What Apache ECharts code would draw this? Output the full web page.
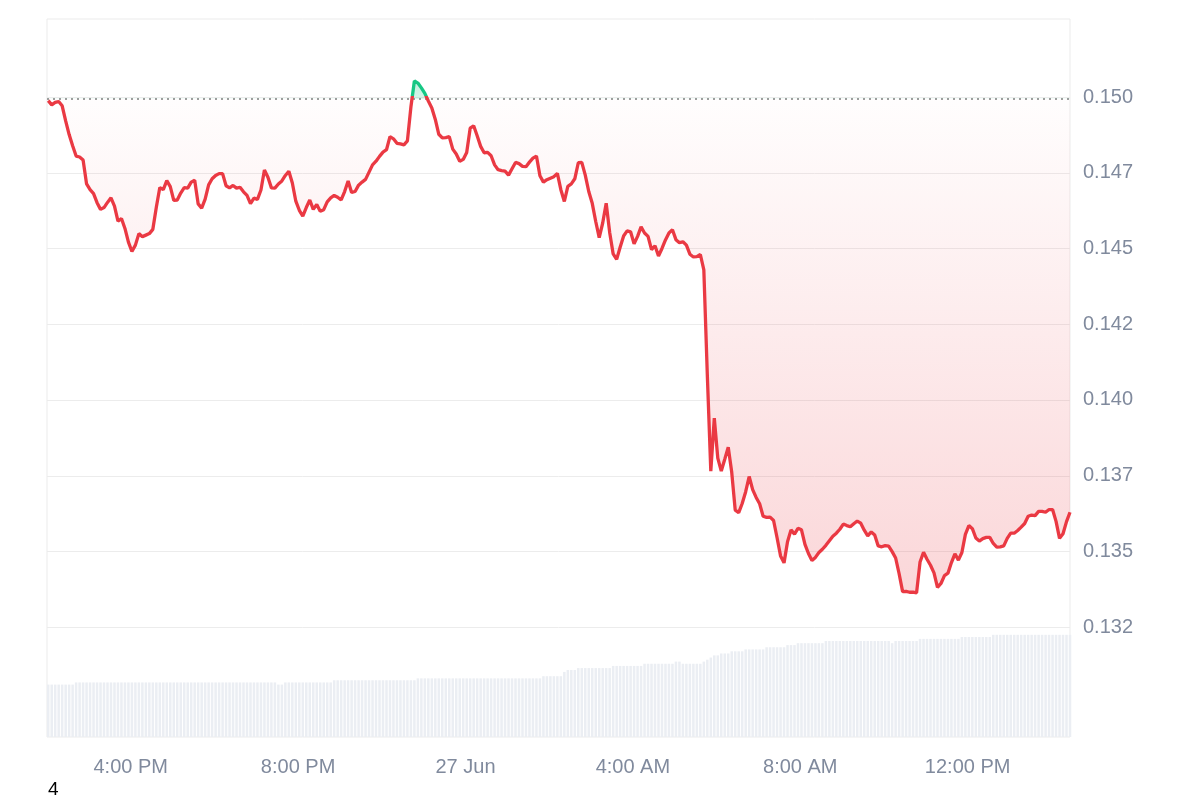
<!DOCTYPE html>
<html>
<head>
<meta charset="utf-8">
<script src="https://cdn.jsdelivr.net/npm/echarts@6/dist/echarts.min.js"></script>
<style>
html,body{margin:0;padding:0;background:#ffffff;}
#chart{width:1200px;height:800px;}
</style>
</head>
<body>
<div id="chart"></div>
<script>
// ---- data ----
const axisStart = Date.UTC(2024, 5, 26, 14, 0, 0);
const firstPoint = Date.UTC(2024, 5, 26, 14, 1, 45);
const stepMs = 5 * 60 * 1000;
const openPrice = 0.14994;

const prices = [
0.14988,0.14974,0.14982,0.14985,0.14971,0.14921,0.14876,0.14839,0.14805,0.14802,
0.14792,0.14713,0.14694,0.14681,0.14651,0.14629,0.14635,0.14652,0.14667,0.14640,
0.14590,0.14599,0.14566,0.14521,0.14490,0.14511,0.14549,0.14539,0.14544,0.14549,
0.14563,0.14636,0.14701,0.14694,0.14724,0.14704,0.14659,0.14660,0.14683,0.14701,
0.14699,0.14719,0.14725,0.14647,0.14633,0.14663,0.14710,0.14730,0.14741,0.14747,
0.14747,0.14707,0.14700,0.14708,0.14699,0.14702,0.14687,0.14675,0.14648,0.14666,
0.14662,0.14693,0.14759,0.14735,0.14700,0.14699,0.14713,0.14723,0.14741,0.14755,
0.14716,0.14656,0.14626,0.14607,0.14635,0.14660,0.14629,0.14645,0.14623,0.14628,
0.14654,0.14667,0.14675,0.14669,0.14660,0.14688,0.14723,0.14685,0.14688,0.14709,
0.14719,0.14728,0.14752,0.14776,0.14788,0.14804,0.14818,0.14826,0.14869,0.14862,
0.14847,0.14845,0.14842,0.14855,0.14967,0.15053,0.15046,0.15030,0.15012,0.14987,
0.14964,0.14926,0.14877,0.14865,0.14866,0.14869,0.14828,0.14812,0.14788,0.14794,
0.14817,0.14897,0.14905,0.14872,0.14837,0.14816,0.14817,0.14806,0.14776,0.14760,
0.14757,0.14755,0.14742,0.14763,0.14784,0.14780,0.14771,0.14770,0.14785,0.14798,
0.14805,0.14740,0.14719,0.14727,0.14732,0.14737,0.14748,0.14694,0.14655,0.14705,
0.14713,0.14730,0.14783,0.14784,0.14742,0.14688,0.14649,0.14589,0.14536,0.14584,
0.14649,0.14553,0.14482,0.14464,0.14504,0.14541,0.14558,0.14555,0.14515,0.14540,
0.14571,0.14551,0.14540,0.14496,0.14509,0.14475,0.14500,0.14528,0.14551,0.14562,
0.14529,0.14519,0.14522,0.14511,0.14481,0.14472,0.14473,0.14480,0.14429,0.14082,
0.13765,0.13940,0.13808,0.13765,0.13804,0.13844,0.13761,0.13636,0.13628,0.13658,
0.13697,0.13747,0.13704,0.13678,0.13657,0.13616,0.13612,0.13613,0.13602,0.13545,
0.13485,0.13462,0.13532,0.13571,0.13557,0.13576,0.13571,0.13523,0.13493,0.13470,
0.13480,0.13496,0.13507,0.13520,0.13535,0.13550,0.13560,0.13573,0.13590,0.13585,
0.13581,0.13591,0.13600,0.13593,0.13570,0.13551,0.13564,0.13554,0.13518,0.13515,
0.13519,0.13517,0.13499,0.13478,0.13426,0.13367,0.13368,0.13365,0.13365,0.13363,
0.13465,0.13497,0.13474,0.13454,0.13429,0.13381,0.13394,0.13420,0.13428,0.13463,
0.13492,0.13471,0.13496,0.13556,0.13585,0.13575,0.13544,0.13534,0.13542,0.13546,
0.13546,0.13526,0.13514,0.13515,0.13518,0.13543,0.13560,0.13560,0.13569,0.13580,
0.13592,0.13616,0.13620,0.13618,0.13632,0.13632,0.13629,0.13638,0.13638,0.13599,
0.13543,0.13558,0.13598,0.13629
];

const volumes = [
21.9,21.9,21.9,21.9,21.9,21.9,21.9,21.9,22.8,22.8,
22.8,22.8,22.8,22.8,22.8,22.8,22.8,22.8,22.8,22.8,
22.8,22.8,22.8,22.8,22.8,22.8,22.8,22.8,22.8,22.8,
22.8,22.8,22.8,22.8,22.8,22.8,22.8,22.8,22.8,22.8,
22.8,22.8,22.8,22.8,22.8,22.8,22.8,22.8,22.8,22.8,
22.8,22.8,22.8,22.8,22.8,22.8,22.8,22.8,22.8,22.8,
22.8,22.8,22.8,22.8,22.8,22.8,21.9,21.9,22.8,22.8,
22.8,22.8,22.8,22.8,22.8,22.8,22.8,22.8,22.8,22.8,
22.8,22.8,23.7,23.7,23.7,23.7,23.7,23.7,23.7,23.7,
23.7,23.7,23.7,23.7,23.7,23.7,23.7,23.7,23.7,23.7,
23.7,23.7,23.7,23.7,23.7,23.7,24.5,24.5,24.5,24.5,
24.5,24.5,24.5,24.5,24.5,24.5,24.5,24.5,24.5,24.5,
24.5,24.5,24.5,24.5,24.5,24.5,24.5,24.5,24.5,24.5,
24.5,24.5,24.5,24.5,24.5,24.5,24.5,24.5,24.5,24.5,
24.5,24.5,25.4,25.4,25.4,25.4,25.4,25.4,27.2,28.0,
28.0,28.0,28.8,28.8,28.8,28.8,28.8,28.8,28.8,28.8,
28.8,28.8,29.7,29.7,29.7,29.7,29.7,29.7,29.7,29.7,
29.7,30.6,30.6,30.6,30.6,30.6,30.6,30.6,30.6,30.6,
31.5,31.5,30.6,30.6,30.6,30.6,30.6,30.6,31.5,32.3,
33.2,34.1,34.1,34.9,34.9,34.9,35.8,35.8,35.8,35.8,
36.6,36.6,36.6,36.6,36.6,36.6,37.5,37.5,37.5,37.5,
37.5,37.5,38.4,38.4,38.4,39.2,39.2,39.2,39.2,39.2,
39.2,39.2,39.2,40.1,40.1,40.1,40.1,40.1,40.1,40.1,
40.1,40.1,40.1,40.1,40.1,40.1,40.1,40.1,40.1,40.1,
40.1,40.1,39.2,40.1,40.1,40.1,40.1,40.1,40.1,40.1,
41.0,41.0,41.0,41.0,41.0,41.0,41.0,41.0,41.0,41.0,
41.0,41.0,41.8,41.8,41.8,41.8,41.8,41.8,41.8,41.8,
41.8,42.7,42.7,42.7,42.7,42.7,42.7,42.7,42.7,42.7,
42.7,42.7,42.7,42.7,42.7,42.7,42.7,42.7,42.7,42.7,
42.7,42.7,42.7,42.7
];

const yTickValues = [0.1325, 0.135, 0.1375, 0.14, 0.1425, 0.145, 0.1475, 0.15];
const yTickLabels = ['0.132', '0.135', '0.137', '0.140', '0.142', '0.145', '0.147', '0.150'];
const monthNames = ['Jan','Feb','Mar','Apr','May','Jun','Jul','Aug','Sep','Oct','Nov','Dec'];

// ---- derived ----
const times = prices.map((_, i) => firstPoint + i * stepMs);
const axisEnd = times[times.length - 1];
const priceData = times.map((t, i) => [t, prices[i]]);
const volumeData = times.map((t, i) => [t, volumes[i]]);
const gridData = yTickValues.map(v => [axisStart, v]);
const yMin = 0.128871, yMax = 0.152575;
const volMax = 300;

const maxP = Math.max(...prices), minP = Math.min(...prices);
const frac = Math.max(0, (maxP - openPrice) / (maxP - minP));

const RED = '#ea3943', GREEN = '#16c784';
const labelColor = '#808a9d';
const fontFamily = '"Liberation Sans", Arial, Helvetica, sans-serif';

function xLabel(v) {
  const t = Math.round(v / 1000) * 1000;
  const d = new Date(t);
  if (d.getUTCMinutes() !== 0 || d.getUTCSeconds() !== 0) return '';
  const h = d.getUTCHours();
  if (h % 4 !== 0) return '';
  if (h === 0) return d.getUTCDate() + ' ' + monthNames[d.getUTCMonth()];
  const h12 = h % 12 === 0 ? 12 : h % 12;
  return h12 + ':00 ' + (h < 12 ? 'AM' : 'PM');
}
function yLabel(v) {
  for (let i = 0; i < yTickValues.length; i++) {
    if (Math.abs(v - yTickValues[i]) < 1e-7) return yTickLabels[i];
  }
  return '';
}
function hLine(stroke, width, dash) {
  return function (params, api) {
    const p = api.coord([api.value(0), api.value(1)]);
    const cs = params.coordSys;
    const y = Math.round(p[1]) + (width % 2 ? 0.5 : 0);
    return {
      type: 'line',
      shape: { x1: cs.x, y1: y, x2: cs.x + cs.width, y2: y },
      style: { stroke: stroke, lineWidth: width, lineDash: dash || null }
    };
  };
}

const noLine = { show: false, lineStyle: { opacity: 0 } };
const chart = echarts.init(document.getElementById('chart'), null, { renderer: 'canvas' });
chart.setOption({
  animation: false,
  backgroundColor: '#ffffff',
  grid: {
    left: 47, right: 130, top: 19, bottom: 63,
    show: true, borderColor: '#ebebeb', borderWidth: 1, backgroundColor: 'transparent'
  },
  xAxis: {
    type: 'value',
    min: axisStart, max: axisEnd,
    interval: 2 * 3600 * 1000,
    axisLine: { show: false }, axisTick: { show: false }, splitLine: noLine,
    axisLabel: {
      formatter: xLabel, color: labelColor, fontSize: 20, margin: 20,
      fontFamily: fontFamily, showMinLabel: false, showMaxLabel: false
    }
  },
  yAxis: [{
    type: 'value', position: 'right', min: yMin, max: yMax,
    axisLine: { show: false }, axisTick: { show: false }, splitLine: noLine,
    axisLabel: {
      customValues: yTickValues, formatter: yLabel, color: labelColor,
      fontSize: 20, margin: 13, fontFamily: fontFamily
    }
  }, {
    type: 'value', min: 0, max: volMax, show: false,
    axisLine: { show: false }, axisTick: { show: false }, axisLabel: { show: false }, splitLine: noLine
  }],
  series: [{
    type: 'bar', name: 'Volume', xAxisIndex: 0, yAxisIndex: 1,
    data: volumeData, barWidth: 2.5, silent: true, z: 1,
    itemStyle: { color: '#ebeef3' }
  }, {
    type: 'custom', name: 'gridLines', xAxisIndex: 0, yAxisIndex: 0,
    data: gridData, encode: { x: 0, y: 1 }, silent: true, z: 2,
    renderItem: hLine('#ececec', 1)
  }, {
    type: 'custom', name: 'openLine', xAxisIndex: 0, yAxisIndex: 0,
    data: [[axisStart, openPrice]], encode: { x: 0, y: 1 }, silent: true, z: 2,
    renderItem: hLine('#9e9e9e', 2, [2, 4])
  }, {
    type: 'line', name: 'Price', xAxisIndex: 0, yAxisIndex: 0,
    data: priceData, showSymbol: false, symbol: 'none', z: 3,
    lineStyle: {
      width: 3.3,
      color: {
        type: 'linear', x: 0, y: 0, x2: 0, y2: 1,
        colorStops: [
          { offset: 0, color: GREEN },
          { offset: frac, color: GREEN },
          { offset: frac, color: RED },
          { offset: 1, color: RED }
        ]
      }
    },
    areaStyle: {
      origin: openPrice,
      color: {
        type: 'linear', x: 0, y: 0, x2: 0, y2: 1,
        colorStops: [
          { offset: 0, color: 'rgba(22,199,132,0.40)' },
          { offset: frac, color: 'rgba(22,199,132,0.25)' },
          { offset: frac, color: 'rgba(234,57,67,0.01)' },
          { offset: 1, color: 'rgba(234,57,67,0.29)' }
        ]
      }
    }
  }],
  graphic: [{
    type: 'text', left: 48, top: 780,
    style: { text: '4', fontSize: 19, fill: '#000000', fontFamily: fontFamily }
  }]
});
</script>
</body>
</html>
